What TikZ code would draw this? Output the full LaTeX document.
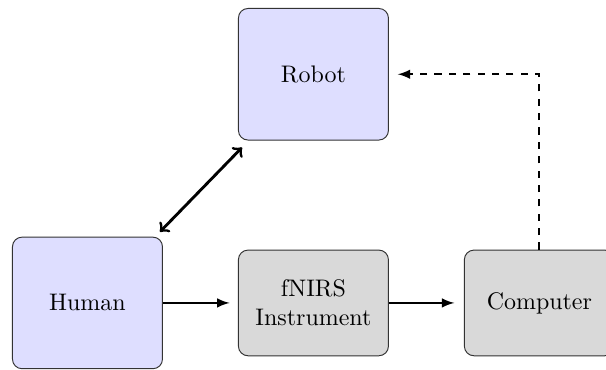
\documentclass[tikz,border=0pt]{standalone}
\usepackage{amsmath}
\usepackage{tikz}
\usetikzlibrary{arrows,calc,positioning}

\begin{document}
\begin{tikzpicture}[>=latex,semithick,
    agent/.style={draw=black!80,thin,fill=blue!13,rounded corners=4pt,minimum width=2.2cm,minimum height=1.93cm,align=center},
    device/.style={draw=black!80,thin,fill=gray!30,rounded corners=4pt,minimum width=2.2cm,minimum height=1.55cm,align=center}]
	  \node[agent] (human) {Human};
	  \node[device] (fnirs) [right=1.1cm of human] {fNIRS\\Instrument};
	  \node[device] (computer) [right=1.1cm of fnirs] {Computer};
	  \node[agent] (robot) [above=1.6cm of fnirs] {Robot};
	  \draw[thick,->,shorten >=3.5pt] (human) -- (fnirs);
	  \draw[thick,->,shorten >=4pt] (fnirs) -- (computer);
	  \draw[thick,dashed,->,shorten >=3.7pt] (computer.north) |- (robot.east);
	  \draw[very thick,<->,>=to] ([xshift=-1.25pt,yshift=2pt]human.north east) -- ([xshift=1.7pt,yshift=-2.9pt]robot.south west);
	  % crop to the frame
	  \pgfresetboundingbox
	  \useasboundingbox ($(human.west |- robot.north)+(-0.176cm,0.117cm)$) rectangle ($(computer.east |- human.south)+(-0.13cm,0)$);
	\end{tikzpicture}
\end{document}
